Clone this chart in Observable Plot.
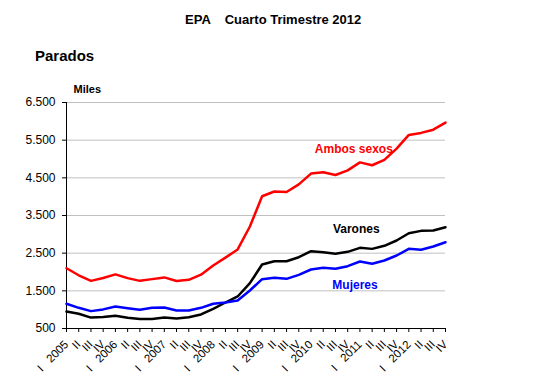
<!DOCTYPE html>
<html>
<head>
<meta charset="utf-8">
<script src="https://cdn.jsdelivr.net/npm/d3@7"></script>
<script src="https://cdn.jsdelivr.net/npm/@observablehq/plot@0.6"></script>
<style>
  body { margin: 0; background: white; font-family: Arial, "Liberation Sans", sans-serif; }
  #head { position: relative; width: 539px; height: 70px; }
  #title { position: absolute; left: 185px; top: 13px; font-size: 13px; font-weight: bold; line-height: 1; white-space: pre; }
  #sub { position: absolute; left: 35px; top: 48px; font-size: 15px; font-weight: bold; line-height: 1; }
</style>
</head>
<body>
<div id="head">
  <div id="title">EPA    Cuarto Trimestre 2012</div>
  <div id="sub">Parados</div>
</div>
<div id="chart"></div>
<script>
const years = ["2005","2006","2007","2008","2009","2010","2011","2012"];
const quarters = ["I","II","III","IV"];
const seriesNames = ["Ambos sexos","Varones","Mujeres"];
const seriesColors = ["#ff0000","#000000","#0000ff"];
const ambos = [2100,1913,1765,1841,1936,1837,1765,1811,1856,1760,1792,1928,2174,2382,2599,3208,4011,4138,4123,4327,4613,4646,4575,4697,4910,4834,4978,5274,5640,5693,5778,5965];
const varones = [951,890,790,805,837,784,750,750,792,765,801,872,1023,1190,1350,1703,2199,2287,2287,2393,2552,2525,2482,2535,2641,2614,2695,2836,3030,3092,3101,3189];
const mujeres = [1156,1049,961,1007,1084,1040,996,1049,1058,978,978,1049,1156,1190,1243,1509,1810,1845,1819,1925,2066,2110,2084,2154,2279,2218,2305,2438,2615,2589,2677,2791];
const yTicks = [500,1500,2500,3500,4500,5500,6500];
// label anchor positions (quarter index, value)
const labelX = [23.5, 23.7, 23.6];
const labelY = [5250, 3130, 1640];

const tickLabels = years.flatMap(y => quarters.map(q => q === "I" ? q + "\u00a0\u00a0\u00a0" + y : q));
const allValues = [ambos, varones, mujeres];
const rows = [];
allValues.forEach((vals, s) => vals.forEach((v, i) => rows.push({i, v, serie: seriesNames[s]})));
const labelRows = seriesNames.map((n, s) => ({x: labelX[s], y: labelY[s], text: n}));

const loc = d3.formatLocale({decimal: ",", thousands: ".", grouping: [3], currency: ["", ""]});
const fmt = loc.format(",");

const chart = Plot.plot({
  width: 539, height: 315,
  marginLeft: 66, marginRight: 94, marginTop: 32, marginBottom: 57,
  style: {fontFamily: "Arial, 'Liberation Sans', sans-serif", color: "black", background: "white"},
  x: {type: "linear", domain: [0, 31]},
  y: {domain: [500, 6500]},
  color: {domain: seriesNames, range: seriesColors},
  marks: [
    Plot.gridY(yTicks, {stroke: "#c0c0c0", strokeOpacity: 1}),
    Plot.axisY(yTicks, {tickFormat: fmt, tickSize: 4, tickPadding: 7, fontSize: 12, label: null}),
    Plot.axisX(d3.range(tickLabels.length), {tickFormat: i => tickLabels[i], tickRotate: -45, tickSize: 4, tickPadding: 10, fontSize: 11.5, label: null}),
    Plot.ruleX([0], {stroke: "black"}),
    Plot.ruleY([500], {stroke: "black"}),
    Plot.line(rows, {x: "i", y: "v", z: "serie", stroke: "serie", strokeWidth: 2.5}),
    Plot.text(labelRows, {x: "x", y: "y", text: "text", fill: d => d.text, fontWeight: "bold", fontSize: 12}),
    Plot.text(["Miles"], {frameAnchor: "top-left", dx: 7, dy: -17, text: d => d, fontWeight: "bold", fontSize: 11, textAnchor: "start"})
  ]
});
document.getElementById("chart").appendChild(chart);
</script>
</body>
</html>
